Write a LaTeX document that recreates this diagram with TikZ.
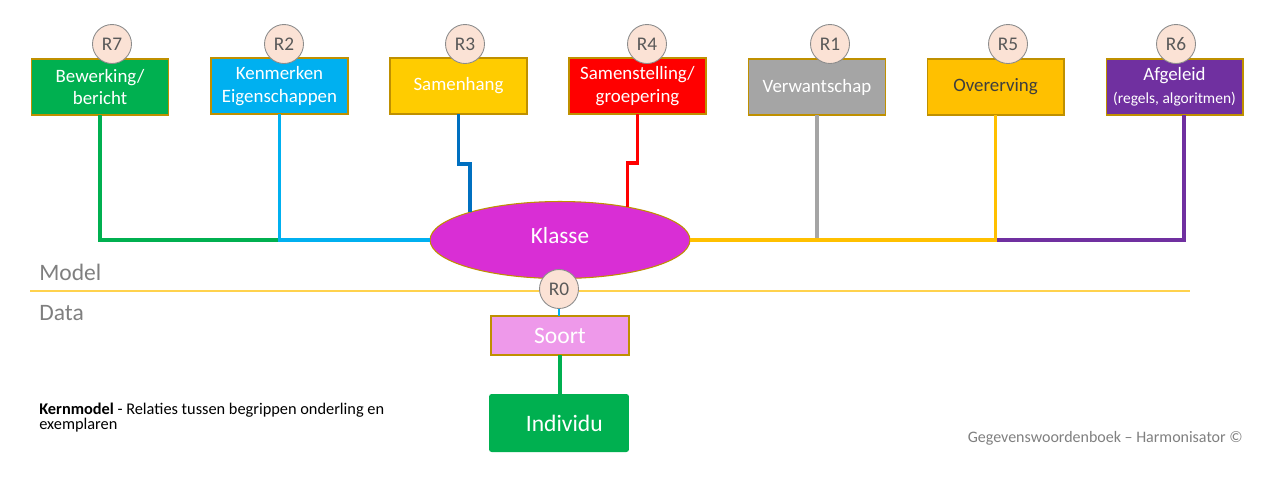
\documentclass[tikz,border=0pt]{standalone}
\usepackage{fontspec}
\setmainfont{Carlito}
\usetikzlibrary{positioning,shapes.geometric}
\definecolor{boxborder}{HTML}{BF9000}
\definecolor{circlefill}{HTML}{FBE2D5}
\definecolor{circleborder}{HTML}{8C8C8C}
\definecolor{labelgray}{HTML}{595959}
\definecolor{textgray}{HTML}{7F7F7F}
\definecolor{bewgreen}{HTML}{00B050}
\definecolor{kencyan}{HTML}{00B0F0}
\definecolor{samyellow}{HTML}{FFCC00}
\definecolor{samblue}{HTML}{0070C0}
\definecolor{samred}{HTML}{FF0000}
\definecolor{verwgray}{HTML}{A5A5A5}
\definecolor{overorange}{HTML}{FFC000}
\definecolor{afgpurple}{HTML}{7030A0}
\definecolor{klassefill}{HTML}{D92ED5}
\definecolor{soortfill}{HTML}{EE99EA}
\definecolor{modelline}{HTML}{FFD24D}
\begin{document}
\begin{tikzpicture}
[x=0.02cm,y=-0.02cm,
  boxdecorate/.style={shape=rectangle,draw=boxborder,line width=0.6pt,minimum width=2.74cm,minimum height=1.12cm,inner sep=0pt,outer sep=0pt,text=white,align=center,font=\fontsize{10.75}{13}\selectfont},
  circledecorate/.style={shape=circle,draw=circleborder,line width=0.5pt,fill=circlefill,minimum size=0.78cm,inner sep=0pt,outer sep=0pt,text=labelgray,font=\fontsize{11}{13}\selectfont},
  linedecorate/.style={line width=2.2pt},
  sidetext/.style={text=textgray,inner sep=0pt,font=\fontsize{13.4}{15}\selectfont}]
\useasboundingbox (0,0) rectangle (1280,488);
% relation boxes
\node (bewerking) at (100,87) [boxdecorate,fill=bewgreen] {Bewerking/\\bericht};
\node (kenmerken) at (279.5,86) [boxdecorate,fill=kencyan] {Kenmerken\\Eigenschappen};
\node (samenhang) at (458.5,86) [boxdecorate,fill=samyellow] {Samenhang};
\node (samenstelling) at (637.5,86) [boxdecorate,fill=samred] {Samenstelling/\\groepering};
\node (verwantschap) at (817,87) [boxdecorate,fill=verwgray] {Verwantschap};
\node (overerving) at (995.5,87) [boxdecorate,fill=overorange,text=labelgray!70!black] {Overerving};
\node (afgeleid) at (1174.5,87) [boxdecorate,fill=afgpurple] {Afgeleid\\{\fontsize{8.8}{10}\selectfont(regels, algoritmen)}};
% class and data
\node (klasse) at (560,240) [shape=ellipse,draw=boxborder,line width=0.6pt,fill=klassefill,minimum width=5.2cm,minimum height=1.54cm,inner sep=0pt,outer sep=0pt,text=white,font=\fontsize{13.2}{15}\selectfont] {\raisebox{5pt}{Klasse}};
\node (soort) at (560,335.5) [boxdecorate,fill=soortfill,minimum width=2.76cm,minimum height=0.78cm,font=\fontsize{13.4}{15}\selectfont] {Soort};
\node (individu) at (559,423) [shape=rectangle,fill=bewgreen,rounded corners=1.5pt,minimum width=2.8cm,minimum height=1.16cm,inner sep=0pt,outer sep=0pt,text=white,font=\fontsize{13.4}{15}\selectfont] {\hspace{6pt}Individu};
% edges or lines
\coordinate (jken) at (kenmerken.south |- klasse.west);
\coordinate (jover) at (overerving.south |- klasse.east);
\draw[linedecorate,bewgreen] (bewerking.south) |- (jken);
\draw[linedecorate,kencyan] (kenmerken.south) |- (klasse.west);
\draw[linedecorate,samblue] (samenhang.south) -- ++(0,50) -| (klasse.163.8);
\draw[linedecorate,samred] (samenstelling.south) -- ++(0,49) -| (klasse.26.2);
\draw[linedecorate,verwgray,line width=1.8pt] (verwantschap.south) -- (jover -| verwantschap.south);
\draw[linedecorate,afgpurple] (jover) -| ([xshift=0.19cm]afgeleid.south);
\draw[linedecorate,overorange] (klasse.east) -| (overerving.south);
\draw[linedecorate,bewgreen,line width=2.6pt] (soort.south) -- (soort.south |- individu.north);
% model / data divider
\coordinate (divleft) at (30,291);
\coordinate (divright) at (1190,291);
\draw[modelline,line width=0.8pt] (divleft) -- (divright);
\node (model) at (39,272) [sidetext,anchor=west] {Model};
\node (data) at (39,313) [sidetext,anchor=west] {Data};
% relation numbers
\node (r7) at (112,44) [circledecorate] {R7};
\node (r2) at (284,44) [circledecorate] {R2};
\node (r3) at (465,44) [circledecorate] {R3};
\node (r4) at (647,44) [circledecorate] {R4};
\node (r1) at (830,44) [circledecorate] {R1};
\node (r5) at (1008,44) [circledecorate] {R5};
\node (r6) at (1176,44) [circledecorate] {R6};
\node (r0) at (559,289) [circledecorate] {R0};
\draw[kencyan,line width=1.6pt] (r0.south) -- (r0.south |- soort.north);
% captions
\node (kern) at (39,403) [anchor=north west,inner sep=0pt,align=left,font=\fontsize{9.3}{8.2}\selectfont] {\textbf{Kernmodel} - Relaties tussen begrippen onderling en\\exemplaren};
\node (copy) at (1243,438) [anchor=east,inner sep=0pt,text=textgray,font=\fontsize{9.1}{11}\selectfont] {Gegevenswoordenboek – Harmonisator ©};
\end{tikzpicture}
\end{document}
